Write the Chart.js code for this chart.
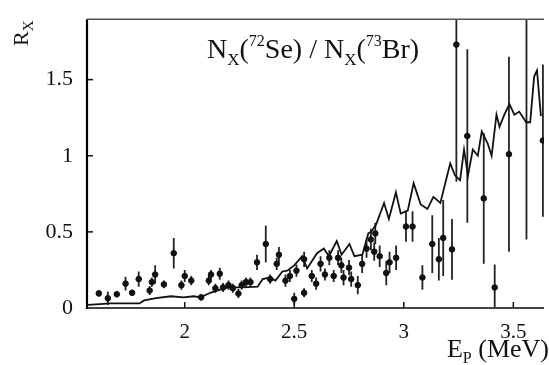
<!DOCTYPE html>
<html><head><meta charset="utf-8">
<script src="https://cdn.jsdelivr.net/npm/chart.js@4.4.1/dist/chart.umd.min.js"></script>
<style>html,body{margin:0;padding:0;background:#fff}canvas{display:block}</style>
</head><body>
<canvas id="c" width="549" height="365"></canvas>
<script>
// Data points (E_p in MeV, R_X ratio, error)
const pointX = [1.608,1.649,1.69,1.73,1.76,1.79,1.84,1.85,1.865,1.905,1.95,1.985,2.0,2.03,2.075,2.11,2.12,2.14,2.16,2.175,2.2,2.22,2.245,2.26,2.28,2.30,2.33,2.37,2.39,2.42,2.43,2.46,2.48,2.50,2.51,2.545,2.545,2.58,2.60,2.62,2.64,2.66,2.68,2.70,2.715,2.725,2.75,2.76,2.79,2.81,2.83,2.85,2.865,2.87,2.89,2.92,2.935,2.965,3.01,3.04,3.085,3.13,3.16,3.18,3.22,3.24,3.29,3.365,3.415,3.48,3.56,3.635];
const pointY = [0.096,0.064,0.09,0.16,0.10,0.19,0.115,0.17,0.22,0.155,0.36,0.15,0.21,0.18,0.07,0.18,0.22,0.13,0.225,0.135,0.15,0.13,0.095,0.15,0.17,0.17,0.30,0.42,0.19,0.29,0.35,0.18,0.21,0.06,0.245,0.10,0.32,0.21,0.16,0.29,0.22,0.33,0.21,0.33,0.28,0.20,0.265,0.19,0.15,0.29,0.39,0.45,0.37,0.49,0.34,0.23,0.30,0.33,0.535,0.535,0.20,0.42,0.32,0.46,0.385,1.73,1.13,0.72,0.135,1.01,2.0,1.10];
const pointErr = [0.02,0.045,0.02,0.045,0.02,0.05,0.03,0.03,0.06,0.025,0.10,0.03,0.04,0.03,0.02,0.03,0.03,0.03,0.04,0.03,0.03,0.03,0.03,0.03,0.03,0.03,0.05,0.12,0.03,0.04,0.05,0.04,0.04,0.04,0.04,0.03,0.05,0.04,0.04,0.05,0.04,0.05,0.04,0.05,0.05,0.05,0.05,0.05,0.06,0.06,0.06,0.07,0.06,0.07,0.07,0.08,0.07,0.08,0.10,0.10,0.08,0.19,0.14,0.25,0.20,0.90,0.57,0.43,0.15,0.64,1.55,0.50];
// Calculated curve
const curveX = [1.559,1.613,1.658,1.793,1.815,1.869,1.937,1.995,2.041,2.072,2.117,2.162,2.198,2.266,2.333,2.356,2.387,2.414,2.446,2.468,2.50,2.536,2.559,2.604,2.635,2.658,2.694,2.716,2.752,2.775,2.811,2.838,2.851,2.874,2.91,2.932,2.964,2.986,3.018,3.045,3.077,3.108,3.135,3.167,3.198,3.212,3.234,3.257,3.275,3.293,3.315,3.338,3.356,3.383,3.401,3.423,3.437,3.459,3.482,3.505,3.527,3.559,3.577,3.595,3.608,3.626];
const curveY = [0.02,0.025,0.03,0.03,0.05,0.065,0.077,0.07,0.077,0.07,0.10,0.12,0.135,0.135,0.14,0.19,0.20,0.18,0.24,0.245,0.28,0.34,0.26,0.36,0.39,0.34,0.44,0.35,0.42,0.34,0.35,0.49,0.50,0.55,0.69,0.585,0.76,0.62,0.64,0.82,0.68,0.65,0.73,0.69,0.87,0.95,0.87,0.84,1.04,0.87,1.04,1.0,1.16,1.08,1.0,1.27,1.19,1.27,1.34,1.27,1.29,1.22,1.22,1.52,1.56,1.26];
const xTicks = [2, 2.5, 3, 3.5];
const yTicks = [0, 0.5, 1, 1.5];

const SERIF = '"Liberation Serif", "DejaVu Serif", serif';

const pts = pointX.map((x,i)=>({x, y:pointY[i]}));
const curve = curveX.map((x,i)=>({x, y:curveY[i]}));

const decor = {
  id:'decor',
  beforeDatasetsDraw(chart){
    const {ctx, chartArea:a, scales:{x,y}} = chart;
    ctx.save();
    ctx.beginPath(); ctx.rect(a.left, a.top, a.right-a.left, a.bottom-a.top); ctx.clip();
    ctx.strokeStyle = '#222'; ctx.lineWidth = 1.8;
    pointX.forEach((px,i)=>{
      const X = x.getPixelForValue(px);
      ctx.beginPath();
      ctx.moveTo(X, y.getPixelForValue(pointY[i]-pointErr[i]));
      ctx.lineTo(X, y.getPixelForValue(pointY[i]+pointErr[i]));
      ctx.stroke();
    });
    ctx.restore();
  },
  afterDraw(chart){
    const {ctx, chartArea:a, scales:{x,y}} = chart;
    ctx.save();
    ctx.strokeStyle = '#555'; ctx.lineWidth = 1.5;
    ctx.beginPath(); ctx.moveTo(a.left, a.top); ctx.lineTo(a.right, a.top); ctx.stroke();
    ctx.strokeStyle = '#444'; ctx.lineWidth = 2;
    ctx.beginPath(); ctx.moveTo(a.left, a.bottom); ctx.lineTo(a.right, a.bottom); ctx.stroke();
    ctx.strokeStyle = '#000'; ctx.lineWidth = 2.2;
    ctx.beginPath(); ctx.moveTo(a.left, a.top); ctx.lineTo(a.left, a.bottom+1); ctx.stroke();
    ctx.lineWidth = 1.5; ctx.strokeStyle = '#111';
    yTicks.forEach(v=>{ if(v===0) return; const Y=y.getPixelForValue(v); ctx.beginPath(); ctx.moveTo(a.left, Y); ctx.lineTo(a.left+6, Y); ctx.stroke(); });
    xTicks.forEach(v=>{ const X=x.getPixelForValue(v); ctx.beginPath(); ctx.moveTo(X, a.bottom); ctx.lineTo(X, a.bottom-6); ctx.stroke(); });
    ctx.fillStyle = '#111'; ctx.textBaseline = 'alphabetic';
    const parts = [
      ['N',28,0],['X',17,7],['(',28,0],['72',16,-12],['Se) / N',28,0],['X',17,7],['(',28,0],['73',16,-12],['Br)',28,0]
    ];
    let cx = 207; const base = 58;
    parts.forEach(([t,s,dy])=>{ ctx.font = s+'px '+SERIF; ctx.fillText(t, cx, base+dy); cx += ctx.measureText(t).width; });
    const xparts = [['E',26,0],['P',16,6],[' (MeV)',26,0]];
    let w = 0; xparts.forEach(([t,s])=>{ ctx.font = s+'px '+SERIF; w += ctx.measureText(t).width; });
    cx = 549 - w;
    xparts.forEach(([t,s,dy])=>{ ctx.font = s+'px '+SERIF; ctx.fillText(t, cx, 357+dy); cx += ctx.measureText(t).width; });
    ctx.translate(28, 46); ctx.rotate(-Math.PI/2);
    ctx.font = '22px '+SERIF; ctx.fillText('R', 0, 0);
    const rw = ctx.measureText('R').width;
    ctx.font = '15px '+SERIF; ctx.fillText('X', rw, 5);
    ctx.restore();
  }
};

new Chart(document.getElementById('c'), {
  type:'scatter',
  data:{datasets:[
    {data:curve, showLine:true, borderColor:'#111', borderWidth:1.8, pointRadius:0, tension:0, order:2},
    {data:pts, showLine:false, backgroundColor:'#111', borderColor:'#111', pointRadius:2.8, pointStyle:'circle', order:1}
  ]},
  options:{
    responsive:false, animation:false,
    layout:{padding:{top:13,right:0,left:0,bottom:0}},
    plugins:{legend:{display:false}, tooltip:{enabled:false}},
    scales:{
      x:{type:'linear', min:1.554, max:3.64,
        grid:{display:false}, border:{display:false},
        afterBuildTicks(s){ s.ticks = xTicks.map(v=>({value:v})); },
        afterFit(s){ s.height = 57; },
        ticks:{padding:4, color:'#111', font:{family:SERIF, size:21}, callback:v=>String(v)}
      },
      y:{type:'linear', min:0, max:1.897,
        grid:{display:false}, border:{display:false},
        afterBuildTicks(s){ s.ticks = yTicks.map(v=>({value:v})); },
        afterFit(s){ s.width = 87; },
        ticks:{padding:6, color:'#111', font:{family:SERIF, size:22}, callback:v=>String(v)}
      }
    }
  },
  plugins:[decor]
});
</script>
</body></html>
